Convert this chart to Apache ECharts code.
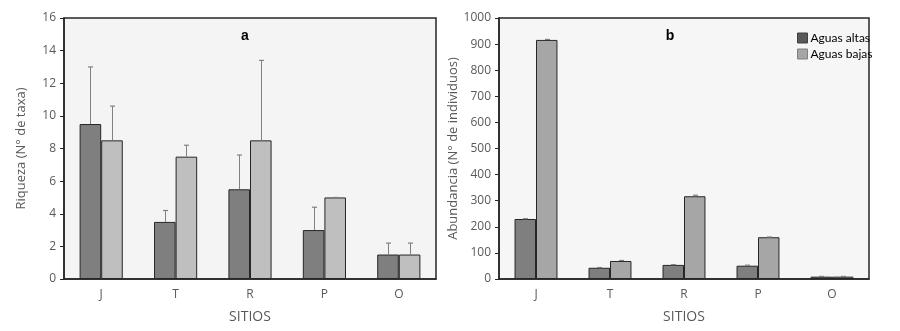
<!DOCTYPE html>
<html><head><meta charset="utf-8">
<script src="https://cdn.jsdelivr.net/npm/echarts@6/dist/echarts.min.js"></script>
<style>html,body{margin:0;padding:0;background:#fff}#c{width:900px;height:331px}</style>
</head><body><div id="c"></div>
<script>
const sitios = ['J','T','R','P','O'];
const riqAltas = [9.5, 3.5, 5.5, 3, 1.5];
const riqBajas = [8.5, 7.5, 8.5, 5, 1.5];
const riqAltasTop = [13.0, 4.2, 7.6, 4.4, 2.2];
const riqBajasTop = [10.6, 8.2, 13.4, 5.0, 2.2];
const abAltas = [230, 43, 54, 51, 9];
const abBajas = [916, 69, 317, 160, 9];
const abAltasTop = [231, 44, 55, 53, 10];
const abBajasTop = [918, 71, 321, 161, 10];
const riqTicks = [0,2,4,6,8,10,12,14,16];
const abTicks = [0,100,200,300,400,500,600,700,800,900,1000];

const FONT = 'Open Sans';
const BARW = 0.29;
function errSeries(name, xi, yi, vals, tops, side) {
  return {
    type: 'custom', name: name, xAxisIndex: xi, yAxisIndex: yi, z: 5,
    data: tops.map((v, i) => [i, v, vals[i]]),
    renderItem: function (params, api) {
      const idx = api.value(0);
      const top = api.value(1);
      const base = api.value(2);
      const band = api.size([1, 0])[0];
      const off = side * band * BARW / 2;
      const p0 = api.coord([idx, base]);
      const p1 = api.coord([idx, top]);
      const x = Math.round(p0[0] + off) + 0.5;
      return {
        type: 'group', children: [
          {type: 'line', shape: {x1: x, y1: p1[1], x2: x, y2: p0[1]}, style: {stroke: '#808080', lineWidth: 1}},
          {type: 'line', shape: {x1: x - 2.5, y1: p1[1], x2: x + 2.5, y2: p1[1]}, style: {stroke: '#808080', lineWidth: 1.2}}
        ]
      };
    }
  };
}
function xAx(gi) {
  return {
    type: 'category', gridIndex: gi, data: sitios,
    name: 'SITIOS', nameLocation: 'middle', nameGap: 31,
    nameTextStyle: {fontFamily: FONT, fontSize: 14, color: '#595959'},
    axisLine: {lineStyle: {color: '#262626', width: 1.5}},
    axisTick: {show: false},
    axisLabel: {fontFamily: FONT, fontSize: 12, color: '#595959', margin: 10}
  };
}
function yAx(gi, ticks, name, gap) {
  return {
    type: 'value', gridIndex: gi, min: ticks[0], max: ticks[ticks.length - 1],
    interval: ticks[1] - ticks[0],
    name: name, nameLocation: 'middle', nameGap: gap,
    nameTextStyle: {fontFamily: FONT, fontSize: 13, color: '#595959'},
    axisLine: {show: true, lineStyle: {color: '#262626', width: 1.5}},
    axisTick: {show: true, length: 4, lineStyle: {color: '#262626'}},
    splitLine: {show: false},
    axisLabel: {fontFamily: FONT, fontSize: 12, color: '#595959', margin: 8, formatter: v => String(v)}
  };
}
function bar(name, xi, data, color) {
  return {
    type: 'bar', name: name, xAxisIndex: xi, yAxisIndex: xi, data: data,
    barWidth: (BARW * 100) + '%', barGap: '0%',
    itemStyle: {color: color, borderColor: '#262626', borderWidth: 1}
  };
}
const chart = echarts.init(document.getElementById('c'), null, {renderer: 'canvas'});
chart.setOption({
  animation: false,
  backgroundColor: '#ffffff',
  title: [
    {text: 'a', left: 240, top: 24, textAlign: 'center', textStyle: {fontFamily: 'Arial', fontWeight: 'bold', fontSize: 14, color: '#000'}},
    {text: 'b', left: 665, top: 24, textAlign: 'center', textStyle: {fontFamily: 'Arial', fontWeight: 'bold', fontSize: 14, color: '#000'}}
  ],
  legend: {
    orient: 'vertical', left: 792, top: 27, itemWidth: 10, itemHeight: 10, itemGap: 4,
    textStyle: {fontFamily: 'Lato', fontSize: 12, color: '#000', padding: [0, 0, 0, -2]},
    data: [
      {name: 'Aguas altas', icon: 'rect', itemStyle: {color: '#595959', borderColor: '#404040', borderWidth: 1}},
      {name: 'Aguas bajas', icon: 'rect', itemStyle: {color: '#a6a6a6', borderColor: '#808080', borderWidth: 1}}
    ]
  },
  grid: [
    {left: 64, right: 464, top: 18, bottom: 52, show: true, backgroundColor: '#f4f4f4', borderColor: '#262626', borderWidth: 1.5},
    {left: 499, right: 31, top: 18, bottom: 52, show: true, backgroundColor: '#f6f6f6', borderColor: '#262626', borderWidth: 1.5}
  ],
  xAxis: [xAx(0), xAx(1)],
  yAxis: [yAx(0, riqTicks, 'Riqueza (N° de taxa)', 36), yAx(1, abTicks, 'Abundancia (N° de individuos)', 34)],
  series: [
    bar('Aguas altas (a)', 0, riqAltas, '#7f7f7f'),
    bar('Aguas bajas (a)', 0, riqBajas, '#bfbfbf'),
    bar('Aguas altas', 1, abAltas, '#7f7f7f'),
    bar('Aguas bajas', 1, abBajas, '#a6a6a6'),
    errSeries('ea1', 0, 0, riqAltas, riqAltasTop, -1),
    errSeries('eb1', 0, 0, riqBajas, riqBajasTop, 1),
    errSeries('ea2', 1, 1, abAltas, abAltasTop, -1),
    errSeries('eb2', 1, 1, abBajas, abBajasTop, 1)
  ]
});
</script></body></html>
